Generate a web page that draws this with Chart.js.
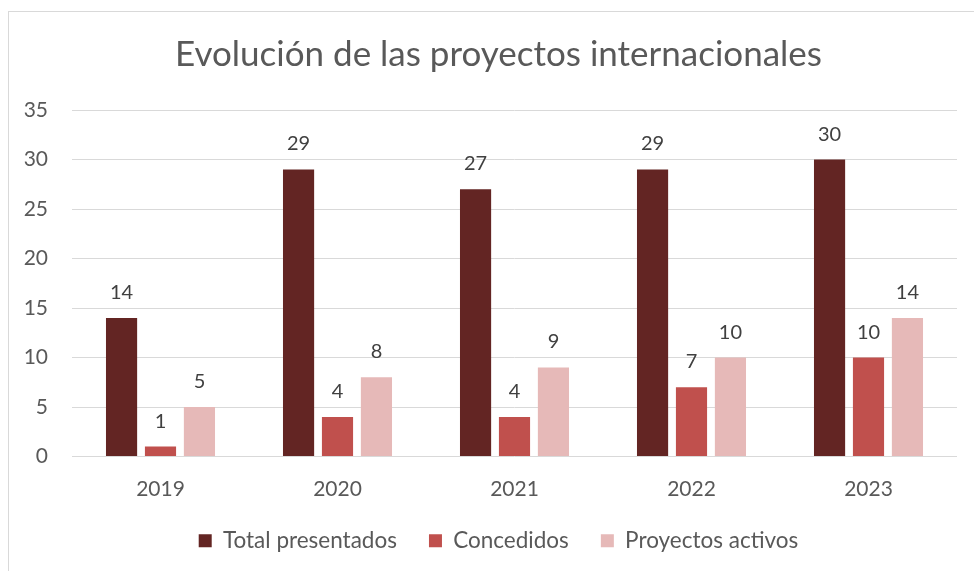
<!DOCTYPE html>
<html>
<head>
<meta charset="utf-8">
<script src="https://cdn.jsdelivr.net/npm/chart.js@4/dist/chart.umd.min.js"></script>
<style>
  html, body { margin: 0; padding: 0; background: #fff; overflow: hidden; width: 974px; height: 571px; }
  #frame { position: absolute; left: 8px; top: 11px; width: 979px; height: 600px; border: 1px solid #d9d9d9; }
  #chart { display: block; }
</style>
</head>
<body>
<div id="frame"><canvas id="chart" width="979" height="559"></canvas></div>
<script>
// Data
const years = ['2019', '2020', '2021', '2022', '2023'];
const totalPresentados = [14, 29, 27, 29, 30];
const concedidos = [1, 4, 4, 7, 10];
const proyectosActivos = [5, 8, 9, 10, 14];
const yTicks = [0, 5, 10, 15, 20, 25, 30, 35];

const FONT = 'Lato, "Open Sans", sans-serif';
const TEXT = '#595959';

// Draw the value above each bar
const valueLabels = {
    id: 'valueLabels',
    afterDatasetsDraw(chart) {
        const ctx = chart.ctx;
        ctx.save();
        ctx.font = '20px ' + FONT;
        ctx.fillStyle = '#404040';
        ctx.textAlign = 'center';
        ctx.textBaseline = 'alphabetic';
        chart.data.datasets.forEach((ds, i) => {
            chart.getDatasetMeta(i).data.forEach((bar, j) => {
                ctx.fillText(ds.data[j], bar.x, bar.y - 19);
            });
        });
        ctx.restore();
    }
};

new Chart(document.getElementById('chart').getContext('2d'), {
    type: 'bar',
    data: {
        labels: years,
        datasets: [
            {label: 'Total presentados', data: totalPresentados, backgroundColor: '#632523'},
            {label: 'Concedidos', data: concedidos, backgroundColor: '#c0504d'},
            {label: 'Proyectos activos', data: proyectosActivos, backgroundColor: '#e6b9b8'}
        ]
    },
    options: {
        responsive: false,
        animation: false,
        devicePixelRatio: 1,
        layout: {padding: {left: 0, right: 0, top: 0, bottom: 9}},
        datasets: {bar: {categoryPercentage: 0.66, barPercentage: 0.8}},
        plugins: {
            title: {
                display: true,
                text: 'Evolución de las proyectos internacionales',
                color: TEXT,
                font: {family: FONT, size: 35, weight: 'normal'},
                padding: {top: 22, bottom: 34}
            },
            legend: {
                position: 'bottom',
                labels: {
                    color: TEXT,
                    font: {family: FONT, size: 22.5},
                    boxWidth: 13,
                    boxHeight: 13,
                    padding: 32
                }
            },
            tooltip: {enabled: false}
        },
        scales: {
            x: {
                afterFit(scale) { scale.height = 41; },
                grid: {display: false, drawTicks: false},
                border: {display: false},
                ticks: {color: TEXT, font: {family: FONT, size: 21}, padding: 20}
            },
            y: {
                min: 0,
                max: 35,
                afterBuildTicks(scale) { scale.ticks = yTicks.map(v => ({value: v})); },
                afterFit(scale) { scale.width = 63; },
                grid: {color: '#d9d9d9', lineWidth: 1, drawTicks: false},
                border: {display: false},
                ticks: {color: TEXT, font: {family: FONT, size: 21}, padding: 24}
            },
            // empty right-hand margin so the title and legend stay centred on the frame
            yRight: {
                position: 'right',
                afterFit(scale) { scale.width = 31; },
                grid: {display: false, drawTicks: false},
                border: {display: false},
                ticks: {display: false}
            }
        }
    },
    plugins: [valueLabels]
});
</script>
</body>
</html>
